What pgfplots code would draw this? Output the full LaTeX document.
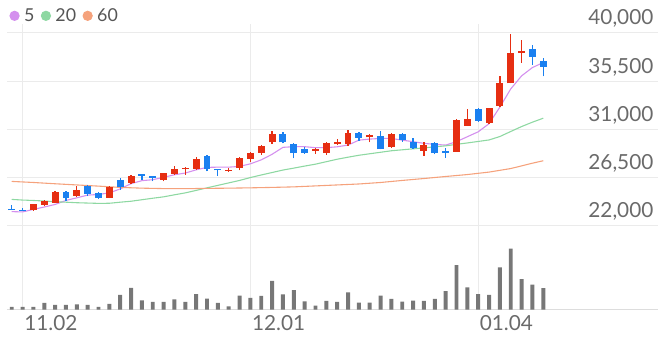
\documentclass[border=0pt]{standalone}
\usepackage{pgfplots}
\pgfplotsset{compat=1.18}
\usepackage{pgfplotstable}
\usepackage{fontspec}
\setmainfont{Lato}
\definecolor{up}{HTML}{E62E12}
\definecolor{down}{HTML}{1A80F0}
\definecolor{ma5}{HTML}{D490EE}
\definecolor{ma20}{HTML}{8ED8A2}
\definecolor{ma60}{HTML}{F5A27C}
\definecolor{vol}{HTML}{777777}
\definecolor{gridc}{HTML}{EBEBEB}
\definecolor{basec}{HTML}{DDDDDD}
\definecolor{lab}{HTML}{6A6A6A}
\definecolor{legt}{HTML}{555555}

\pgfplotstableread{
i O C H L
2 23440 23990 24060 23380
3 23940 24310 24380 23810
4 24150 25140 25210 24100
6 24770 25380 25750 24700
9 24610 25630 25720 24570
11 26000 26670 26740 25900
14 26300 26920 26970 26150
15 26830 27320 27590 26780
16 27290 27410 27450 26760
17 27290 28240 28400 27240
20 27100 27240 27430 27060
21 27380 28300 28460 27170
22 28240 28770 28920 27910
23 28830 29440 29510 28610
24 29780 30550 30860 29620
28 29010 29160 29230 28700
29 28770 29750 29830 28610
30 29620 29780 30060 29530
31 29600 30700 30920 29480
33 30240 30450 30610 29780
35 29380 30610 30700 29290
38 29010 29530 29850 28550
41 28920 31900 31950 28900
42 31320 31930 32920 31300
44 31630 32980 33010 31530
45 33220 35290 35940 33080
46 35290 38150 39910 35290
47 38120 38300 39380 37230
}\uptab

\pgfplotstableread{
i O C H L
0 23600 23460 23970 23450
1 23500 23410 23690 23370
5 25170 24550 25210 24310
7 25690 25010 25770 24770
8 25070 24610 25120 24520
10 26250 25630 26460 25380
12 26830 26670 26860 26300
13 26620 26490 26650 26150
18 28550 27290 28630 27080
19 27290 27170 27320 26670
25 30610 29780 30770 29690
26 29600 28770 29750 28300
27 29130 28830 29320 28700
32 30700 30210 30750 29940
34 30400 29160 30820 29130
36 30610 29990 30700 29850
37 29780 29230 30150 29180
39 29750 28770 29780 28670
40 29000 28770 29290 28350
43 32920 31780 32970 31690
48 38460 37780 38850 37010
49 37380 36820 37690 35940
}\downtab

\pgfplotstableread{
i v
0 23320
1 23290
2 23530
3 23750
4 23990
5 24360
6 24610
7 24860
8 24920
9 25070
10 25440
11 25930
12 26210
13 26300
14 26520
15 26760
16 26920
17 27220
18 27450
19 27470
20 27470
21 27540
22 27780
23 28150
24 28670
25 29320
26 29380
27 29380
28 29290
29 29290
30 29370
31 29530
32 29990
33 30090
34 30150
35 30150
36 29990
37 29850
38 29690
39 29600
40 29530
41 29850
42 30310
43 30770
44 31530
45 33080
46 34770
47 35990
48 36770
49 37230
}\mafive

\pgfplotstableread{
i v
0 24460
1 24400
2 24360
3 24310
4 24240
5 24200
6 24150
7 24120
8 24090
9 24100
10 24200
11 24290
12 24430
13 24570
14 24700
15 24890
16 25070
17 25300
18 25540
19 25770
20 26000
21 26230
22 26500
23 26740
24 26970
25 27200
26 27380
27 27570
28 27750
29 27980
30 28210
31 28400
32 28580
33 28720
34 28860
35 29000
36 29090
37 29180
38 29270
39 29370
40 29460
41 29600
42 29730
43 29870
44 30010
45 30330
46 30800
47 31260
48 31670
49 32040
}\matwenty

\pgfplotstableread{
i v
0 26140
2 26040
4 25920
6 25810
8 25700
10 25580
12 25510
14 25470
16 25460
18 25490
20 25510
22 25540
24 25580
26 25630
28 25720
30 25810
32 25900
34 26040
36 26230
38 26410
40 26600
42 26780
44 27010
46 27340
48 27840
49 28070
}\masixty

\pgfplotstableread{
i v
0 2700
1 2700
2 2700
3 6700
4 4700
5 4700
6 5300
7 4700
8 2700
9 5700
10 14700
11 22000
12 9300
13 7700
14 7700
15 10300
16 7700
17 15700
18 11000
19 6700
20 3300
21 14000
22 11700
23 13700
24 29000
25 15300
26 19700
27 8300
28 4000
29 8700
30 7700
31 17300
32 7000
33 7000
34 14000
35 10700
36 8000
37 9000
38 8700
39 10700
40 18700
41 45000
42 22300
43 15700
44 14700
45 42700
46 61700
47 30700
48 25300
49 21700
}\voltab

\pgfplotsset{
  candle/.style 2 args={forget plot, draw=none, mark=none,
    error bars/y dir=plus, error bars/y explicit, error bars/error mark=none,
    error bars/error bar style={draw=#1, solid, line width=#2}},
}

\begin{document}
\begin{tikzpicture}
\path (0pt,0pt) rectangle (658pt,342pt);
\begin{axis}[
  at={(0pt,110pt)}, anchor=south west, scale only axis,
  width=658pt, height=208pt,
  xmin=-0.456, xmax=59.53, ymin=21658, ymax=40857,
  scaled y ticks=false,
  axis line style={draw=none}, major tick length=0pt,
  xtick={1,22,43}, xticklabels={},
  xmajorgrids, ymajorgrids,
  grid style={draw=gridc, line width=0.9pt},
  ytick={22000,26500,31000,35500,40000},
  yticklabels={{22,000},{26,500},{31,000},{35,500},{40,000}},
  yticklabel pos=right,
  yticklabel style={anchor=south east, inner sep=0pt, xshift=-4pt, yshift=5pt,
    font=\fontsize{21}{21}\selectfont, text=lab},
  legend columns=3,
  legend style={at={(0,1)}, anchor=west, xshift=2.5pt, yshift=8pt,
    draw=none, fill=none, inner sep=0pt, row sep=0pt,
    font=\fontsize{18}{18}\selectfont, text=legt,
    nodes={inner xsep=4.5pt, inner ysep=0pt},
    /tikz/every even column/.append style={column sep=2pt}},
  legend image code/.code={\fill (4.6pt,0pt) circle (4.6pt);},
]
\addplot[ma5, line width=1.1pt] table[x=i,y=v] {\mafive};
\addplot[ma20, line width=1.1pt] table[x=i,y=v] {\matwenty};
\addplot[ma60, line width=1.1pt] table[x=i,y=v] {\masixty};
% wicks
\addplot[candle={up}{1.3pt}]
  table[x=i, y=L, y error plus expr=\thisrow{H}-\thisrow{L}] {\uptab};
\addplot[candle={down}{1.3pt}]
  table[x=i, y=L, y error plus expr=\thisrow{H}-\thisrow{L}] {\downtab};
% bodies
\addplot[candle={up}{7pt}]
  table[x=i, y=O, y error plus expr=\thisrow{C}-\thisrow{O}] {\uptab};
\addplot[candle={down}{7pt}]
  table[x=i, y=C, y error plus expr=\thisrow{O}-\thisrow{C}] {\downtab};
\legend{5,20,60}
\end{axis}

\begin{axis}[
  at={(0pt,29pt)}, anchor=south west, scale only axis,
  width=658pt, height=81pt,
  xmin=-0.456, xmax=59.53, ymin=0, ymax=81000,
  scaled y ticks=false,
  axis line style={draw=none}, major tick length=0pt,
  xtick={1,22,43}, xticklabels={11.02,12.01,01.04},
  xticklabel style={anchor=north west, inner sep=0pt, xshift=1.5pt, yshift=-6pt,
    font=\fontsize{21}{21}\selectfont, text=lab},
  xmajorgrids, grid style={draw=gridc, line width=0.9pt},
  ytick=\empty,
  extra y ticks={0}, extra y tick labels={},
  extra y tick style={grid=major, major grid style={draw=basec, line width=1pt}},
]
\addplot[ybar, bar width=4pt, fill=vol, draw=none] table[x=i,y=v] {\voltab};
\end{axis}
\end{tikzpicture}
\end{document}
